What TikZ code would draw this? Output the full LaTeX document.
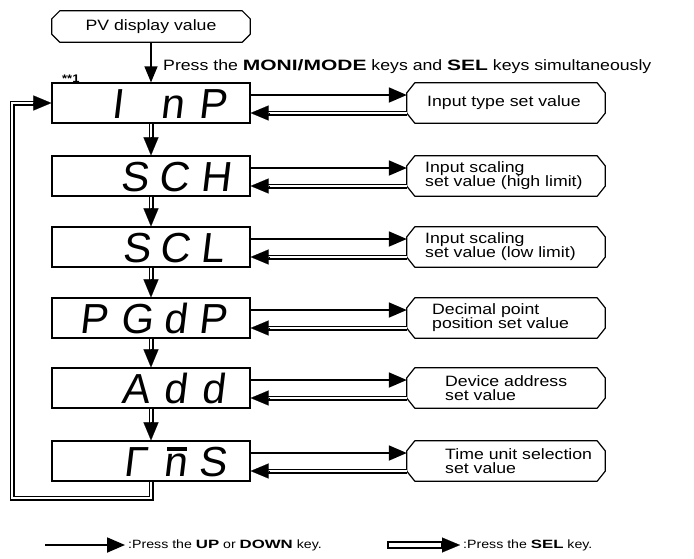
\documentclass[tikz,border=0pt]{standalone}
\usepackage{fontspec}
\setmainfont{Liberation Sans}[FakeStretch=1.18]
\newfontfamily\keyfont{Liberation Sans Bold}[FakeStretch=1.4]
\newfontfamily\segfont{Liberation Sans}[FakeSlant=0.12]
\usetikzlibrary{arrows.meta,calc}
\begin{document}
\begin{tikzpicture}[x=1pt,y=-1pt,
  every node/.style={inner sep=0pt},
  disp/.style={draw, line width=1.2pt, minimum width=198pt, minimum height=40pt},
  rbox/.style={minimum width=198pt, minimum height=40pt},
  boxline/.style={line width=1.2pt, line join=round},
  seg/.style={anchor=base, font=\segfont\fontsize{42}{42}\selectfont},
  rtext/.style={anchor=west, align=left, font=\fontsize{15}{14}\selectfont},
  updn/.style={line width=1.8pt, -{Triangle[length=18pt,width=15pt]}},
  dbl/.style={double=white, double distance=2.8pt, line width=1.1pt},
  tiphead/.style={line width=0.1pt, -{Triangle[length=18pt,width=15pt]}},
  font=\fontsize{15}{15}\selectfont]
\useasboundingbox (0,0) rectangle (694,558);

% PV box
\node[rbox, minimum height=31pt] (pv) at (151,26.5) {PV display value};

% display boxes
\node[disp] (d1) at (151,103) {};
\node[disp] (d2) at (151,176) {};
\node[disp] (d3) at (151,247) {};
\node[disp] (d4) at (151,318) {};
\node[disp] (d5) at (151,388) {};
\node[disp] (d6) at (151,461) {};

% display characters
\node[seg] (c11) at (117,118) {I};
\node[seg] (c12) at (172,118) {n};
\node[seg] (c13) at (213,118) {P};
\node[seg] (c21) at (135,191) {S};
\node[seg] (c22) at (174,191) {C};
\node[seg] (c23) at (216,191) {H};
\node[seg] (c31) at (137,262) {S};
\node[seg] (c32) at (175,262) {C};
\node[seg] (c33) at (212,262) {L};
\node[seg] (c41) at (94,333) {P};
\node[seg] (c42) at (137,333) {G};
\node[seg] (c43) at (175,333) {d};
\node[seg] (c44) at (213,333) {P};
\node[seg] (c51) at (136,403) {A};
\node[seg] (c52) at (175,403) {d};
\node[seg] (c53) at (213,403) {d};
\node[seg] (c61) at (135,476) {Γ};
\node[seg] (c62) at (175,476) {n};
\node[seg] (c63) at (213,476) {S};
\draw[line width=3.6pt] ([xshift=-8pt,yshift=27pt]c62.base) -- ([xshift=12pt,yshift=27pt]c62.base);

% right boxes
\node[rbox] (r1) at (506,103) {};
\node[rbox] (r2) at (506,176) {};
\node[rbox] (r3) at (506,247) {};
\node[rbox] (r4) at (506,318) {};
\node[rbox] (r5) at (506,388) {};
\node[rbox] (r6) at (506,461) {};
\foreach \n/\c in {pv/8,r1/10,r2/10,r3/10,r4/10,r5/10,r6/10}{
  \draw[boxline] ([xshift=8pt]\n.north west) -- ([xshift=-8pt]\n.north east)
     -- ([yshift=-\c pt]\n.north east) -- ([yshift=\c pt]\n.south east)
     -- ([xshift=-8pt]\n.south east) -- ([xshift=8pt]\n.south west)
     -- ([yshift=\c pt]\n.south west) -- ([yshift=-\c pt]\n.north west) -- cycle;
}
\node[rtext] (t1) at (427,103) {Input type set value};
\node[rtext] (t2) at (425,176) {Input scaling\\set value (high limit)};
\node[rtext] (t3) at (425,247) {Input scaling\\set value (low limit)};
\node[rtext] (t4) at (432,318) {Decimal point\\position set value};
\node[rtext] (t5) at (445,388) {Device address\\set value};
\node[rtext] (t6) at (445,461) {Time unit selection\\set value};

% top instruction
\draw[line width=1.3pt, -{Triangle[length=16pt,width=13pt]}] (pv.south) -- (d1.north);
\node[anchor=base west] (press) at (163,70) {Press the {\keyfont MONI/MODE} keys and {\keyfont SEL} keys simultaneously};
\node[anchor=base west, font=\bfseries\fontsize{11}{11}\selectfont] (note) at (62,82) {**1};

% horizontal connectors
\foreach \i in {1,...,6}{
  \draw[updn] ([yshift=8pt]d\i.east) -- ([yshift=8pt]r\i.west);
  \draw[dbl, shorten >=17pt] ([yshift=-10pt]r\i.west) -- ([yshift=-10pt]d\i.east);
  \draw[tiphead] ([yshift=-10pt,xshift=18pt]d\i.east) -- ([yshift=-10pt]d\i.east);
}
% vertical connectors
\foreach \i/\j in {1/2,2/3,3/4,4/5,5/6}{
  \draw[dbl, shorten >=17pt] (d\i.south) -- (d\j.north);
  \draw[tiphead] ([yshift=18pt]d\j.north) -- (d\j.north);
}
% loop back
\coordinate (lb) at (12,498);
\draw[dbl, shorten >=17pt] (d6.south) |- (lb) |- (d1.west);
\draw[tiphead] ([xshift=-18pt]d1.west) -- (d1.west);

% legend
\coordinate (l1a) at (45,545);
\coordinate (l1b) at (125,545);
\draw[updn] (l1a) -- (l1b);
\node[anchor=west, font=\fontsize{12}{12}\selectfont] (leg1) at (128,545) {:Press the {\keyfont UP} or {\keyfont DOWN} key.};
\coordinate (l2a) at (388,545);
\coordinate (l2b) at (460,545);
\draw[line width=1.1pt] ([yshift=3pt]l2a) rectangle ([yshift=-3pt,xshift=-18pt]l2b);
\draw[tiphead] ([xshift=-19pt]l2b) -- (l2b);
\node[anchor=west, font=\fontsize{12}{12}\selectfont] (leg2) at (463,545) {:Press the {\keyfont SEL} key.};
\end{tikzpicture}
\end{document}
